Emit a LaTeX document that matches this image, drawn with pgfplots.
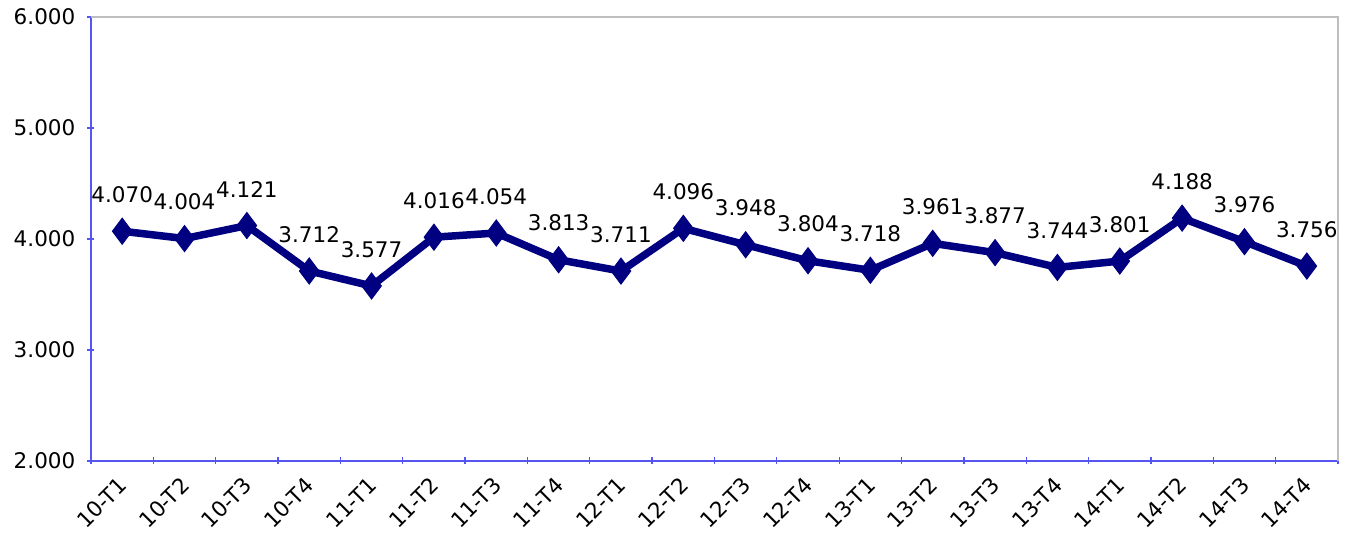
\documentclass[border=0pt]{standalone}
\usepackage{fontspec}
\setmainfont{DejaVu Sans}
\usepackage{pgfplots}
\pgfplotsset{compat=1.18}
\definecolor{serie}{HTML}{000080}
\definecolor{axblue}{RGB}{85,85,240}
\definecolor{frame}{RGB}{190,190,190}

\pgfplotstableread{
x  y
0  4070
1  4004
2  4121
3  3712
4  3577
5  4016
6  4054
7  3813
8  3711
9  4096
10 3948
11 3804
12 3718
13 3961
14 3877
15 3744
16 3801
17 4188
18 3976
19 3756
}\datos

\begin{document}
\begin{tikzpicture}
\useasboundingbox (-91pt,-74pt) rectangle (1264pt,461pt);
\begin{axis}[
  at={(0,0)}, anchor=south west,
  scale only axis,
  width=1247pt, height=444pt,
  xmin=-0.5, xmax=19.5,
  ymin=2000, ymax=6000,
  ytick={2000,3000,4000,5000,6000},
  xtick={0,...,19},
  xticklabels={10-T1,10-T2,10-T3,10-T4,11-T1,11-T2,11-T3,11-T4,12-T1,12-T2,12-T3,12-T4,13-T1,13-T2,13-T3,13-T4,14-T1,14-T2,14-T3,14-T4},
  minor xtick={-0.5,0.5,...,19.5},
  major x tick style={draw=none},
  minor tick length=7pt,
  major tick length=7pt,
  tick align=outside,
  axis lines=left,
  axis line style={-, draw=axblue, line width=1.3pt},
  every tick/.style={draw=axblue, line width=1.3pt},
  minor x tick style={draw=axblue, line width=1.3pt},
  /pgf/number format/.cd, fixed, precision=0, 1000 sep={.}, assume math mode=true,
  /pgfplots/.cd,
  ticklabel style={font=\fontsize{21.5}{25}\selectfont},
  yticklabel style={inner sep=0pt, xshift=-12pt},
  xticklabel style={xshift=1pt, yshift=-17pt, rotate=45, anchor=east, inner sep=0pt},
  clip=false,
  nodes near coords,
  nodes near coords style={font=\fontsize{21.5}{25}\selectfont, anchor=south, inner sep=0pt, yshift=28pt, text=black},
]
\draw[frame, line width=1.3pt] (rel axis cs:0,1) -- (rel axis cs:1,1) -- (rel axis cs:1,0);
\addplot[serie, line width=7.5pt, mark=diamond*, mark size=13pt,
  mark options={fill=serie, line width=1pt, solid}] table[x=x, y=y] {\datos};
\end{axis}
\end{tikzpicture}
\end{document}
